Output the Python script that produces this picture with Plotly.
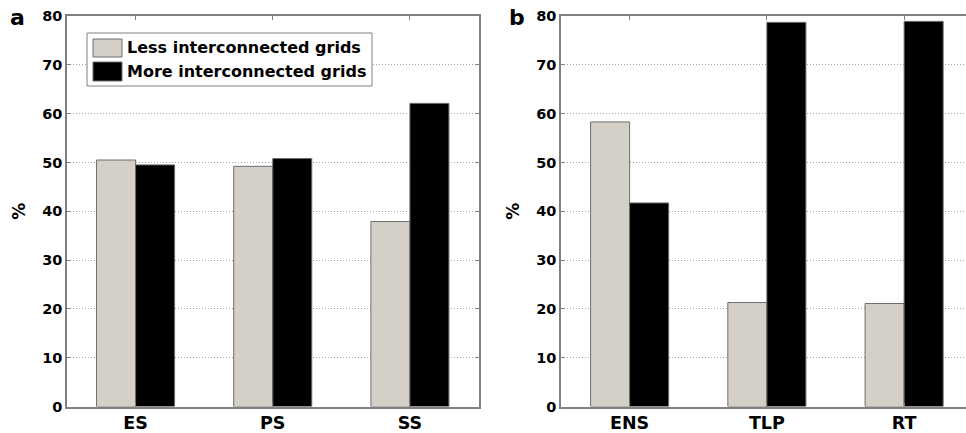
import plotly.graph_objects as go

# ---- data ----
cats_a = ["ES", "PS", "SS"]
less_a = [50.5, 49.2, 37.9]
more_a = [49.5, 50.8, 62.1]

cats_b = ["ENS", "TLP", "RT"]
less_b = [58.3, 21.3, 21.1]
more_b = [41.7, 78.7, 78.9]

series_names = ["Less interconnected grids", "More interconnected grids"]
y_ticks = [0, 10, 20, 30, 40, 50, 60, 70, 80]

# ---- style ----
W, H = 966, 433
LESS_COL = "#d4d0c8"
MORE_COL = "#000000"
EDGE = "#6e6e6e"
AXIS_COL = "#808080"
FONT = "DejaVu Sans"

def px(x):
    return x / W

def py(y):
    return (H - y) / H

def bold(s):
    return "<b>%s</b>" % s

fig = go.Figure()

for cats, less, more, xa, ya in [(cats_a, less_a, more_a, "x", "y"),
                                 (cats_b, less_b, more_b, "x2", "y2")]:
    fig.add_trace(go.Bar(x=cats, y=less, name=series_names[0], xaxis=xa, yaxis=ya,
                         marker=dict(color=LESS_COL, line=dict(color=EDGE, width=1)),
                         showlegend=False))
    fig.add_trace(go.Bar(x=cats, y=more, name=series_names[1], xaxis=xa, yaxis=ya,
                         marker=dict(color=MORE_COL, line=dict(color=EDGE, width=1)),
                         showlegend=False))

ydom = [py(406.5), py(16)]
common_x = dict(type="category", showline=True, linecolor=AXIS_COL, linewidth=1.5,
                ticks="inside", ticklen=4, tickcolor=AXIS_COL, showgrid=False,
                automargin=False,
                tickfont=dict(family=FONT, size=17.5, color="black"))
common_y = dict(range=[0, 80], tickvals=y_ticks, ticktext=[bold(v) for v in y_ticks],
                showline=True, linecolor=AXIS_COL,
                linewidth=1.5, ticks="inside", ticklen=4, tickcolor=AXIS_COL,
                showgrid=True, gridcolor="#a8a8a8", griddash="1px,2px", gridwidth=1,
                zeroline=False, automargin=False,
                tickfont=dict(family=FONT, size=14.5, color="black"),
                title=dict(text=bold("%"), font=dict(family=FONT, size=17, color="black"),
                           standoff=12),
                domain=ydom)

fig.update_layout(
    width=W, height=H,
    margin=dict(l=0, r=0, t=0, b=0),
    paper_bgcolor="white", plot_bgcolor="white",
    barmode="group", bargap=0.431, bargroupgap=0,
    xaxis=dict(common_x, domain=[px(67), px(478.5)], range=[-0.5, 2.5],
               tickvals=cats_a, ticktext=[bold(c) for c in cats_a],
               mirror="ticks", anchor="y"),
    yaxis=dict(common_y, mirror="ticks", anchor="x"),
    xaxis2=dict(common_x, domain=[px(561), 1.0], range=[-0.5, -0.5 + (W - 561) / 137.25],
                tickvals=cats_b, ticktext=[bold(c) for c in cats_b],
                mirror="ticks", anchor="y2"),
    yaxis2=dict(common_y, mirror=False, anchor="x2"),
)

# panel labels
fig.add_annotation(text=bold("a"), x=px(17.5), y=py(18), xref="paper", yref="paper",
                   showarrow=False, xanchor="center", yanchor="middle",
                   font=dict(family=FONT, size=22, color="black"))
fig.add_annotation(text=bold("b"), x=px(517), y=py(18), xref="paper", yref="paper",
                   showarrow=False, xanchor="center", yanchor="middle",
                   font=dict(family=FONT, size=22, color="black"))

# legend box (drawn in panel a)
fig.add_shape(type="rect", xref="paper", yref="paper",
              x0=px(87), x1=px(372), y0=py(86), y1=py(33),
              line=dict(color=AXIS_COL, width=1), fillcolor="white", layer="above")
for (y0, y1), col, name in [((39, 57), LESS_COL, series_names[0]),
                             ((62, 81), MORE_COL, series_names[1])]:
    fig.add_shape(type="rect", xref="paper", yref="paper",
                  x0=px(93), x1=px(122), y0=py(y1), y1=py(y0),
                  line=dict(color=EDGE, width=1), fillcolor=col, layer="above")
    fig.add_annotation(text=bold(name), x=px(125), y=py((y0 + y1) / 2), xref="paper", yref="paper",
                       showarrow=False, xanchor="left", yanchor="middle",
                       font=dict(family=FONT, size=16, color="black"))

fig.write_html("out.html", config={"displayModeBar": False},
               post_script="document.body.style.margin='0';document.body.style.overflow='hidden';")
